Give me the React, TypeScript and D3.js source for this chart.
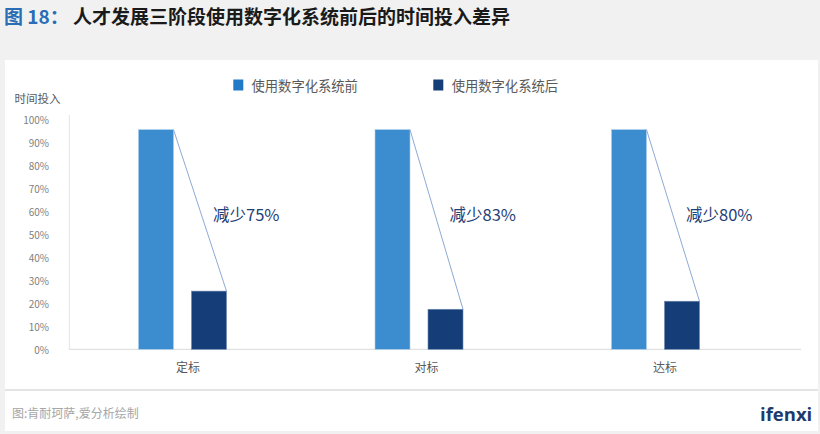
import React from "react";
import * as d3 from "d3";

const categories = ["定标", "对标", "达标"];
const seriesNames = ["使用数字化系统前", "使用数字化系统后"];
const beforeValues = [95.5, 95.5, 95.5];
const afterValues = [25.3, 17.4, 20.9];
const reductionLabels = ["减少75%", "减少83%", "减少80%"];
const yTicks = [0, 10, 20, 30, 40, 50, 60, 70, 80, 90, 100];

const W = 820;
const H = 434;
const FONT = "'Noto Sans CJK SC', 'Noto Sans', sans-serif";
const BLUE = "#3b8dd0";
const DARK = "#153e78";

export default function App() {
  const y = d3.scaleLinear().domain([0, 100]).range([349.3, 119.3]);
  const x = d3.scaleBand<string>().domain(categories).range([64.25, 773.75]).paddingInner(0).paddingOuter(0);
  const inner = d3
    .scaleBand<string>()
    .domain(["before", "after"])
    .range([-44, 44])
    .paddingInner(18 / 53)
    .paddingOuter(0);
  const bw = inner.bandwidth();

  return (
    <div style={{ position: "fixed", left: 0, top: 0, width: W, height: H }}>
      <svg width={W} height={H} style={{ display: "block", fontFamily: FONT }}>
        <rect x={0} y={0} width={W} height={H} fill="#f1f1f1" />
        <rect x={5} y={60} width={813} height={371} fill="#ffffff" />
        <text x={4} y={24} fontSize={19} fontWeight={700}>
          <tspan fill="#2a6db5">图 18：</tspan>
          <tspan x={73} fill="#1a1a1a">人才发展三阶段使用数字化系统前后的时间投入差异</tspan>
        </text>

        {/* legend */}
        <rect x={233.3} y={79.5} width={10} height={11} fill="#2279c8" />
        <text x={251.5} y={85} fontSize={13.3} fill="#595959" dominantBaseline="central">
          {seriesNames[0]}
        </text>
        <rect x={433.3} y={79.5} width={10} height={11} fill={DARK} />
        <text x={451.7} y={85} fontSize={13.3} fill="#595959" dominantBaseline="central">
          {seriesNames[1]}
        </text>

        {/* y axis title */}
        <text x={14.5} y={98} fontSize={11.5} fill="#595959" dominantBaseline="central">
          时间投入
        </text>

        {/* y ticks */}
        {yTicks.map((t) => (
          <text
            key={t}
            x={49}
            y={y(t)}
            fontSize={10}
            fill="#7f7f7f"
            textAnchor="end"
            dominantBaseline="central"
          >
            {t}%
          </text>
        ))}

        {/* axes */}
        <line x1={69.3} x2={69.3} y1={115} y2={349.3} stroke="#e3e3e3" strokeWidth={1} />
        <line x1={69.3} x2={801} y1={349.3} y2={349.3} stroke="#d9d9d9" strokeWidth={1} />

        {categories.map((c, i) => {
          const cx = (x(c) as number) + x.bandwidth() / 2;
          const bx = cx + (inner("before") as number);
          const ax = cx + (inner("after") as number);
          const by = y(beforeValues[i]);
          const ay = y(afterValues[i]);
          return (
            <g key={c}>
              <rect x={bx} y={by} width={bw} height={y(0) - by} fill={BLUE} stroke="#a9cdee" strokeWidth={0.6} />
              <rect x={ax} y={ay} width={bw} height={y(0) - ay} fill={DARK} stroke="#6c87b0" strokeWidth={0.6} />
              <line x1={bx + bw} y1={by} x2={ax + bw} y2={ay} stroke="#8eaad4" strokeWidth={1} />
              <text x={bx + bw + 39.5} y={214} fontSize={16.5} fill="#1f3f78" dominantBaseline="central">
                {reductionLabels[i]}
              </text>
              <text x={cx + 5.5 + i * 2} y={366} fontSize={12} fill="#595959" textAnchor="middle" dominantBaseline="central">
                {c}
              </text>
            </g>
          );
        })}

        {/* footer */}
        <line x1={5} x2={818} y1={390} y2={390} stroke="#c9c9c9" strokeWidth={1} />
        <text x={12} y={412} fontSize={12} fill="#a6a6a6" dominantBaseline="central">
          图:肯耐珂萨,爱分析绘制
        </text>
        <text x={760} y={413} fontSize={18.5} fontWeight={700} fill="#1b3a6e" dominantBaseline="central" fontFamily="'Open Sans', 'DejaVu Sans', sans-serif">
          ifenxi
        </text>
      </svg>
    </div>
  );
}
